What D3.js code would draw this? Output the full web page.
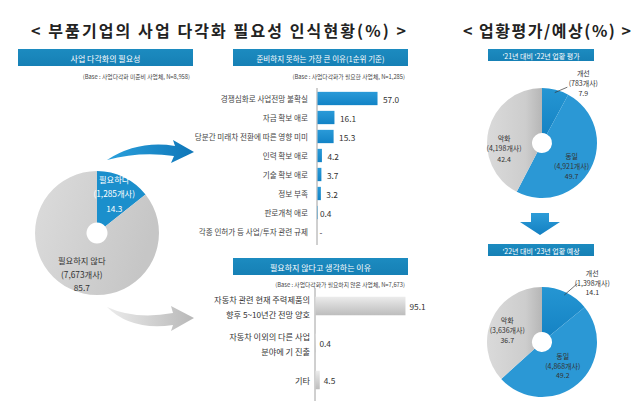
<!DOCTYPE html>
<html><head><meta charset="utf-8">
<script src="https://cdn.jsdelivr.net/npm/d3@7"></script>
<style>
html,body{margin:0;padding:0;background:#fff;}
svg{display:block;font-family:"Noto Sans CJK KR","Noto Sans",sans-serif;}
</style></head><body>
<svg id="c" width="640" height="406"></svg>
<script>
// ---------------- data ----------------
const titleLeft = "< 부품기업의 사업 다각화 필요성 인식현황(%) >";
const titleRight = "< 업황평가/예상(%) >";

const needHeader = "사업 다각화의 필요성";
const needBase = "(Base : 사업다각화 미준비 사업체, N=8,958)";
const needLabels = ["필요하다", "필요하지 않다"];
const needCounts = ["1,285개사", "7,673개사"];
const needValues = [14.3, 85.7];

const reasonHeader = "준비하지 못하는 가장 큰 이유(1순위 기준)";
const reasonBase = "(Base : 사업다각화가 필요한 사업체, N=1,285)";
const reasonCategories = ["경쟁심화로 사업전망 불확실", "자금 확보 애로", "당분간 미래차 전환에 따른 영향 미미",
  "인력 확보 애로", "기술 확보 애로", "정보 부족", "판로개척 애로", "각종 인허가 등 사업/투자 관련 규제"];
const reasonValues = [57.0, 16.1, 15.3, 4.2, 3.7, 3.2, 0.4, 0];
const reasonValueLabels = ["57.0", "16.1", "15.3", "4.2", "3.7", "3.2", "0.4", "-"];

const notNeedHeader = "필요하지 않다고 생각하는 이유";
const notNeedBase = "(Base : 사업다각화가 필요하지 않은 사업체, N=7,673)";
const notNeedCategories = [["자동차 관련 현재 주력제품의", "향후 5~10년간 전망 양호"], ["자동차 이외의 다른 사업", "분야에 기 진출"], ["기타"]];
const notNeedValues = [95.1, 0.4, 4.5];

const outlookLabels = ["개선", "동일", "악화"];
const outlook22Header = "'21년 대비 '22년 업황 평가";
const outlook22Counts = ["783개사", "4,921개사", "4,198개사"];
const outlook22Values = [7.9, 49.7, 42.4];
const outlook23Header = "'22년 대비 '23년 업황 예상";
const outlook23Counts = ["1,398개사", "4,868개사", "3,636개사"];
const outlook23Values = [14.1, 49.2, 36.7];

// ---------------- drawing ----------------
const svg = d3.select("#c");
const defs = svg.append("defs");

function linGrad(id, stops, x1, y1, x2, y2) {
  const g = defs.append("linearGradient").attr("id", id)
    .attr("x1", x1).attr("y1", y1).attr("x2", x2).attr("y2", y2);
  stops.forEach(s => g.append("stop").attr("offset", s[0]).attr("stop-color", s[1]));
}
linGrad("gBlueBar", [[0, "#2a9ad8"], [1, "#1283c6"]], 0, 0, 0, 1);
linGrad("gGrayBar", [[0, "#ececec"], [0.45, "#d6d6d6"], [1, "#bdbdbd"]], 0, 0, 0, 1);
linGrad("gGrayPie", [[0, "#dcdcdc"], [1, "#c6c6c6"]], 0, 0, 1, 0.3);
linGrad("gGrayPie2", [[0, "#dadada"], [0.7, "#cdcdcd"], [1, "#b6b6b6"]], 0, 0, 1, 0);
linGrad("gBluePie", [[0, "#2596d3"], [1, "#1583c4"]], 0, 0, 0, 1);
linGrad("gHeader", [[0, "#1c8bc0"], [1, "#1680b5"]], 0, 0, 0, 1);
linGrad("gArrowBlue", [[0, "#2aa0dc"], [1, "#0f76b8"]], 0, 0, 1, 0);
linGrad("gArrowGray", [[0, "#ececec"], [1, "#b8b8b8"]], 0, 0, 1, 0);
linGrad("gArrowDown", [[0, "#2d9cd8"], [1, "#1380c2"]], 0, 0, 0, 1);

function radial(id, cx, cy, r) {
  const g = defs.append("radialGradient").attr("id", id).attr("gradientUnits", "userSpaceOnUse")
    .attr("cx", cx).attr("cy", cy).attr("r", r);
  [[0, "#e0f3fc"], [0.55, "#addbf3"], [1, "#2b98d5"]].forEach(s =>
    g.append("stop").attr("offset", s[0]).attr("stop-color", s[1]));
}

// titles
svg.append("text").attr("x", 31).attr("y", 30).attr("dominant-baseline", "central")
  .attr("font-size", 16).attr("font-weight", "bold").attr("fill", "#222")
  .attr("textLength", 375).attr("lengthAdjust", "spacing").text(titleLeft);
svg.append("text").attr("x", 463).attr("y", 30).attr("dominant-baseline", "central")
  .attr("font-size", 16).attr("font-weight", "bold").attr("fill", "#222")
  .attr("textLength", 168).attr("lengthAdjust", "spacing").text(titleRight);

function header(x, y, w, h, txt, fs) {
  svg.append("rect").attr("x", x).attr("y", y).attr("width", w).attr("height", h).attr("fill", "url(#gHeader)");
  svg.append("text").attr("x", x + w / 2).attr("y", y + h / 2 + 0.5).attr("text-anchor", "middle")
    .attr("dominant-baseline", "central").attr("font-size", fs).attr("fill", "#fff").text(txt);
}
function baseText(x, y, txt) {
  svg.append("text").attr("x", x).attr("y", y).attr("text-anchor", "end").attr("dominant-baseline", "central")
    .attr("font-size", 5.8).attr("fill", "#444").text(txt);
}

header(18, 49, 175, 17, needHeader, 8);
baseText(190, 76, needBase);
header(233, 49, 175, 17, reasonHeader, 7.5);
baseText(405, 76, reasonBase);
header(233, 258, 175, 17, notNeedHeader, 8);
baseText(405, 284, notNeedBase);
header(488, 49, 106, 12, outlook22Header, 7);
header(488, 244, 106, 12, outlook23Header, 7);

// pie helper
function drawPie(cx, cy, rOuter, rInner, values, fills, labels, layout) {
  const g = svg.append("g").attr("transform", `translate(${cx},${cy})`);
  const arcs = d3.pie().sort(null).value(d => d)(values);
  const arc = d3.arc().innerRadius(rInner).outerRadius(rOuter);
  g.selectAll("path").data(arcs).join("path").attr("d", arc).attr("fill", (d, i) => fills[i]);
  arcs.forEach((a, i) => {
    const L = layout[i];
    const c = d3.arc().innerRadius(L.r).outerRadius(L.r).centroid(a);
    const px = c[0] + L.dx, py = c[1] + L.dy;
    if (L.leader) {
      const s = d3.arc().innerRadius(rOuter - 3).outerRadius(rOuter - 3).centroid(a);
      g.append("line").attr("x1", s[0]).attr("y1", s[1]).attr("x2", px + L.leader[0]).attr("y2", py + L.leader[1])
        .attr("stroke", "#333").attr("stroke-width", 0.7);
    }
    labels[i].forEach((t, k) => {
      g.append("text").attr("x", px).attr("y", py + (k - 1) * L.lh).attr("text-anchor", "middle")
        .attr("dominant-baseline", "central").attr("font-size", L.fs).attr("fill", L.color).text(t);
    });
  });
}

// left pie
drawPie(97, 233, 62, 10.5, needValues, ["#1b8fcc", "url(#gGrayPie)"],
  needValues.map((v, i) => [needLabels[i], "(" + needCounts[i] + ")", v.toFixed(1)]),
  [{ r: 42, dx: -1, dy: -2, lh: 14.5, fs: 8.3, color: "#fff" },
   { r: 42, dx: 3, dy: 3, lh: 13.5, fs: 8.3, color: "#333" }]);

// right pies
radial("gSame1", 532, 168, 75);
radial("gSame2", 532, 367, 75);
drawPie(542, 143, 55, 10, outlook22Values, ["url(#gBluePie)", "url(#gSame1)", "url(#gGrayPie2)"],
  outlook22Values.map((v, i) => [outlookLabels[i], "(" + outlook22Counts[i] + ")", v.toFixed(1)]),
  [{ r: 38, dx: 32, dy: -23, lh: 10, fs: 7, color: "#333", leader: [-16, 4] },
   { r: 38, dx: -4, dy: 5, lh: 10, fs: 7, color: "#333" },
   { r: 38, dx: -1, dy: 14, lh: 10.5, fs: 7, color: "#333" }]);
drawPie(542, 342, 55, 10, outlook23Values, ["url(#gBluePie)", "url(#gSame2)", "url(#gGrayPie2)"],
  outlook23Values.map((v, i) => [outlookLabels[i], "(" + outlook23Counts[i] + ")", v.toFixed(1)]),
  [{ r: 38, dx: 34, dy: -25, lh: 9.5, fs: 7, color: "#333", leader: [-15, 1] },
   { r: 38, dx: -4, dy: -5, lh: 9.5, fs: 7, color: "#333" },
   { r: 38, dx: 0, dy: 3, lh: 10, fs: 7, color: "#333" }]);

// top bar chart
const yTop = d3.scaleBand().domain(reasonCategories).range([89, 241]).paddingInner(0.3).paddingOuter(0.15);
const xTop = d3.scaleLinear().domain([0, 100]).range([317, 422.3]);
svg.append("line").attr("x1", xTop(0)).attr("x2", xTop(0)).attr("y1", 88).attr("y2", 245)
  .attr("stroke", "#888").attr("stroke-width", 0.8);
svg.append("g").selectAll("rect").data(reasonValues).join("rect")
  .attr("x", xTop(0) + 0.5).attr("y", (d, i) => yTop(reasonCategories[i]))
  .attr("width", d => Math.max(0, xTop(d) - xTop(0))).attr("height", yTop.bandwidth())
  .attr("fill", "url(#gBlueBar)");
svg.append("g").selectAll("text").data(reasonCategories).join("text")
  .attr("x", 308).attr("y", d => yTop(d) + yTop.bandwidth() / 2).attr("text-anchor", "end")
  .attr("dominant-baseline", "central").attr("font-size", 7.6).attr("fill", "#444").text(d => d);
svg.append("g").selectAll("text").data(reasonValues).join("text")
  .attr("x", (d, i) => xTop(d) + (d > 1 ? 6 : 2.5)).attr("y", (d, i) => yTop(reasonCategories[i]) + yTop.bandwidth() / 2)
  .attr("dominant-baseline", "central").attr("font-size", 8.3).attr("fill", "#333")
  .text((d, i) => reasonValueLabels[i]);

// bottom bar chart
const notKeys = notNeedCategories.map(d => d.join(" "));
const yBot = d3.scaleBand().domain(notKeys).range([287.5, 398.5]).paddingInner(0.5).paddingOuter(0.25);
const xBot = d3.scaleLinear().domain([0, 100]).range([315, 409.6]);
svg.append("line").attr("x1", xBot(0)).attr("x2", xBot(0)).attr("y1", 288).attr("y2", 401)
  .attr("stroke", "#888").attr("stroke-width", 0.8);
svg.append("g").selectAll("rect").data(notNeedValues).join("rect")
  .attr("x", xBot(0) + 0.5).attr("y", (d, i) => yBot(notKeys[i]))
  .attr("width", d => Math.max(0, xBot(d) - xBot(0))).attr("height", yBot.bandwidth())
  .attr("fill", "url(#gGrayBar)");
notNeedCategories.forEach((lines, i) => {
  const cy = yBot(notKeys[i]) + yBot.bandwidth() / 2;
  lines.forEach((t, k) => {
    svg.append("text").attr("x", 310).attr("y", cy + (k - (lines.length - 1) / 2) * 15)
      .attr("text-anchor", "end").attr("dominant-baseline", "central")
      .attr("font-size", 8.2).attr("fill", "#333").text(t);
  });
});
svg.append("g").selectAll("text").data(notNeedValues).join("text")
  .attr("x", d => xBot(d) + (d > 1 ? 4.5 : 4)).attr("y", (d, i) => yBot(notKeys[i]) + yBot.bandwidth() / 2)
  .attr("dominant-baseline", "central").attr("font-size", 8.3).attr("fill", "#333")
  .text(d => d.toFixed(1));

// decorative arrows
svg.append("path").attr("d",
  "M107,160 Q138,140 175,146 L173,140 L194,152 L171,163 L174,156 Q140,151 107,160 Z")
  .attr("fill", "url(#gArrowBlue)");
svg.append("path").attr("d",
  "M107,307 Q135,320 173,313 L171,306 L194,318 L171,331 L173,325 Q131,331 107,307 Z")
  .attr("fill", "url(#gArrowGray)");
svg.append("path").attr("d",
  "M531,213 L549,213 L549,222 L560,222 L540,235 L520,222 L531,222 Z")
  .attr("fill", "url(#gArrowDown)");
</script>
</body></html>
